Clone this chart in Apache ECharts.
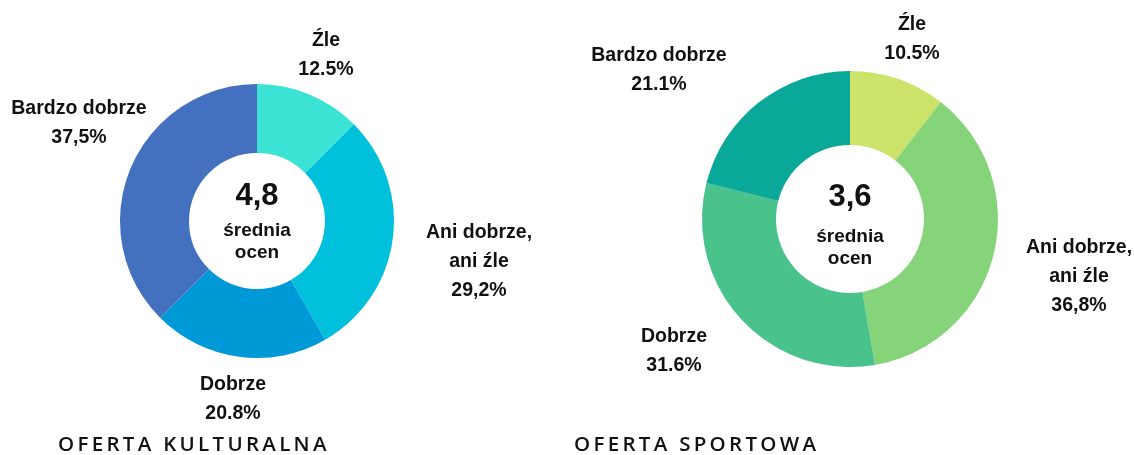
<!DOCTYPE html>
<html><head><meta charset="utf-8">
<script src="https://cdn.jsdelivr.net/npm/echarts@6/dist/echarts.min.js"></script>
<style>
html,body{margin:0;padding:0;background:#fff;}
#wrap{position:relative;width:1134px;height:455px;}
#chart{width:1134px;height:455px;}
.ttl{position:absolute;font-family:"Open Sans",Lato,sans-serif;font-weight:600;font-size:20.5px;letter-spacing:3.3px;color:#111;white-space:nowrap;line-height:1;}
</style></head>
<body>
<div id="wrap"><div id="chart"></div>
<div class="ttl" id="t1" style="left:58px;top:433px;">OFERTA KULTURALNA</div>
<div class="ttl" id="t2" style="left:574px;top:433px;">OFERTA SPORTOWA</div>
</div>
<script>
var categories = ['Źle', 'Ani dobrze,\nani źle', 'Dobrze', 'Bardzo dobrze'];
var cultureValues = [12.5, 29.2, 20.8, 37.5];
var cultureSeparators = ['.', ',', '.', ','];
var sportValues = [10.5, 36.8, 31.6, 21.1];
var sportSeparators = ['.', ',', '.', '.'];
var cultureAverage = '4,8';
var sportAverage = '3,6';
var centerCaption = 'średnia\nocen';

var cultureColors = ['#3be3d5', '#00c0dc', '#0099d8', '#4470c0'];
var sportColors = ['#cce36a', '#86d47a', '#4ac28c', '#0aa898'];

// label anchor positions (centre of each label block)
var cultureLabelPos = [[326, 55], [479, 262], [233, 399], [79, 123]];
var sportLabelPos = [[912, 39], [1079, 277], [674, 351], [659, 70]];

function fmt(v, sep) { return v.toFixed(1).replace('.', sep) + '%'; }

function buildData(vals, seps, colors) {
  return categories.map(function (c, i) {
    return { name: c, value: vals[i], sep: seps[i], itemStyle: { color: colors[i] } };
  });
}

var labelStyle = {
  show: true,
  position: 'outside',
  fontFamily: '"Liberation Sans", Arial, sans-serif',
  fontWeight: 'bold',
  fontSize: 19.5,
  lineHeight: 29,
  color: '#111',
  align: 'center',
  formatter: function (p) { return p.name + '\n' + fmt(p.value, p.data.sep); }
};

function makeSeries(vals, seps, colors, center, radius, pos) {
  return {
    type: 'pie',
    center: center,
    radius: radius,
    startAngle: 90,
    clockwise: true,
    avoidLabelOverlap: false,
    silent: true,
    animation: false,
    label: labelStyle,
    labelLine: { show: false },
    labelLayout: function (params) {
      var p = pos[params.dataIndex];
      return { x: p[0], y: p[1], align: 'center', verticalAlign: 'middle' };
    },
    itemStyle: { borderWidth: 0 },
    data: buildData(vals, seps, colors)
  };
}

var centerFont = '"Liberation Sans", Arial, sans-serif';
function centerText(x, yTop, yCap, big) {
  return [
    { type: 'text', x: x, y: yTop, style: { text: big, font: 'bold 31px ' + centerFont, fill: '#111', align: 'center', verticalAlign: 'middle' } },
    { type: 'text', x: x, y: yCap, style: { text: centerCaption, font: 'bold 19px ' + centerFont, lineHeight: 22, fill: '#111', align: 'center', verticalAlign: 'middle' } }
  ];
}

var chart = echarts.init(document.getElementById('chart'), null, { renderer: 'canvas' });
chart.setOption({
  backgroundColor: '#fff',
  animation: false,
  series: [
    makeSeries(cultureValues, cultureSeparators, cultureColors, [257, 221], [68, 137], cultureLabelPos),
    makeSeries(sportValues, sportSeparators, sportColors, [850, 219], [74, 148], sportLabelPos)
  ],
  graphic: centerText(257, 196, 242, cultureAverage).concat(centerText(850, 197, 248, sportAverage))
});
</script>
</body></html>
